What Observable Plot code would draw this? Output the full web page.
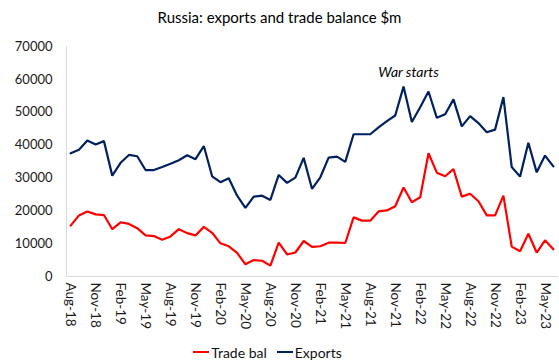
<!DOCTYPE html>
<html><head><meta charset="utf-8">
<script src="https://cdn.jsdelivr.net/npm/d3@7"></script>
<script src="https://cdn.jsdelivr.net/npm/@observablehq/plot@0.6"></script>
<style>
html,body{margin:0;padding:0;background:#fff;}
body{width:559px;height:364px;position:relative;overflow:hidden;font-family:Lato,"Open Sans",sans-serif;color:#000;}
#title{position:absolute;top:0;left:0;width:559px;height:34px;line-height:34px;text-align:center;font-size:15px;}
#chart{position:absolute;top:30px;left:0;}
#legend{position:absolute;top:340px;left:0;width:535px;text-align:center;font-size:14px;color:#111;}
#legend span.item{display:inline-flex;align-items:center;margin:0 5px;}
#legend svg{margin-right:2px;}
</style></head><body>
<div id="title">Russia: exports and trade balance $m</div>
<div id="chart"></div>
<div id="legend"></div>
<script>
const months = ["Aug-18","Sep-18","Oct-18","Nov-18","Dec-18","Jan-19","Feb-19","Mar-19","Apr-19","May-19","Jun-19","Jul-19",
"Aug-19","Sep-19","Oct-19","Nov-19","Dec-19","Jan-20","Feb-20","Mar-20","Apr-20","May-20","Jun-20","Jul-20",
"Aug-20","Sep-20","Oct-20","Nov-20","Dec-20","Jan-21","Feb-21","Mar-21","Apr-21","May-21","Jun-21","Jul-21",
"Aug-21","Sep-21","Oct-21","Nov-21","Dec-21","Jan-22","Feb-22","Mar-22","Apr-22","May-22","Jun-22","Jul-22",
"Aug-22","Sep-22","Oct-22","Nov-22","Dec-22","Jan-23","Feb-23","Mar-23","Apr-23","May-23","Jun-23"];

const exportsVals = [37500,38600,41400,40200,41200,30700,34600,37000,36600,32400,32400,33300,
34300,35400,36900,35700,39700,30500,28700,29900,24600,20900,24300,24600,
23300,30900,28500,30100,36100,26700,30200,36200,36500,34900,43300,43300,
43300,45400,47300,49000,57800,47000,51500,56300,48300,49400,53900,45700,
48800,46700,43900,44700,54600,33300,30400,40700,31700,36800,33500];

const tradeBalVals = [15500,18600,19800,18900,18700,14400,16500,16000,14700,12500,12300,11200,
12200,14400,13200,12500,15100,13300,10100,9200,7200,3700,5000,4800,
3300,10300,6700,7300,10800,9000,9200,10300,10300,10200,18000,17000,
17000,19800,20100,21400,27100,22600,24100,37500,31600,30500,32700,24300,
25200,22900,18600,18600,24600,9100,7700,13000,7300,11000,8300];

const tickLabels = ["Aug-18","Nov-18","Feb-19","May-19","Aug-19","Nov-19","Feb-20","May-20","Aug-20","Nov-20",
"Feb-21","May-21","Aug-21","Nov-21","Feb-22","May-22","Aug-22","Nov-22","Feb-23","May-23"];
const yTicks = [0,10000,20000,30000,40000,50000,60000,70000];

const seriesNames = ["Trade bal","Exports"];
const seriesColors = ["#ff0000","#002060"];

const annotations = [{month:"Dec-21", value:62000, text:"War starts"}];

const idx = m => months.indexOf(m);
const data = [];
months.forEach((m,i)=>{
  data.push({i, series:"Trade bal", value:tradeBalVals[i]});
  data.push({i, series:"Exports", value:exportsVals[i]});
});

const chart = Plot.plot({
  width:559, height:292,
  marginTop:16, marginBottom:46, marginLeft:66, marginRight:2,
  style:{fontFamily:'Lato,"Open Sans",sans-serif', fontSize:"13px", color:"#1a1a1a", background:"#fff", overflow:"visible"},
  x:{type:"linear", domain:[-0.5, months.length-0.5]},
  y:{domain:[0,70000]},
  color:{domain:seriesNames, range:seriesColors},
  marks:[
    Plot.frame({anchor:"left", stroke:"#d9d9d9"}),
    Plot.frame({anchor:"bottom", stroke:"#d9d9d9"}),
    Plot.axisY({ticks:yTicks, tickSize:0, tickPadding:14, tickFormat:d3.format("d"), label:null, fontSize:13}),
    Plot.axisX({ticks:tickLabels.map(idx), tickSize:0, tickPadding:6, tickRotate:90, tickFormat:i=>months[i], label:null, fontSize:13.5}),
    Plot.line(data, {x:"i", y:"value", z:"series", stroke:"series", strokeWidth:2.2, strokeLinejoin:"miter"}),
    Plot.text(annotations, {x:d=>idx(d.month), y:"value", text:"text", fontStyle:"italic", fontSize:14, dx:5, fill:"#000"})
  ]
});
document.getElementById("chart").appendChild(chart);

const legend = document.getElementById("legend");
seriesNames.forEach((name,k)=>{
  const s = document.createElement("span");
  s.className="item";
  s.innerHTML = `<svg width="16" height="4"><line x1="0" y1="2" x2="16" y2="2" stroke="${seriesColors[k]}" stroke-width="2"/></svg>${name}`;
  legend.appendChild(s);
});
</script>
</body></html>
